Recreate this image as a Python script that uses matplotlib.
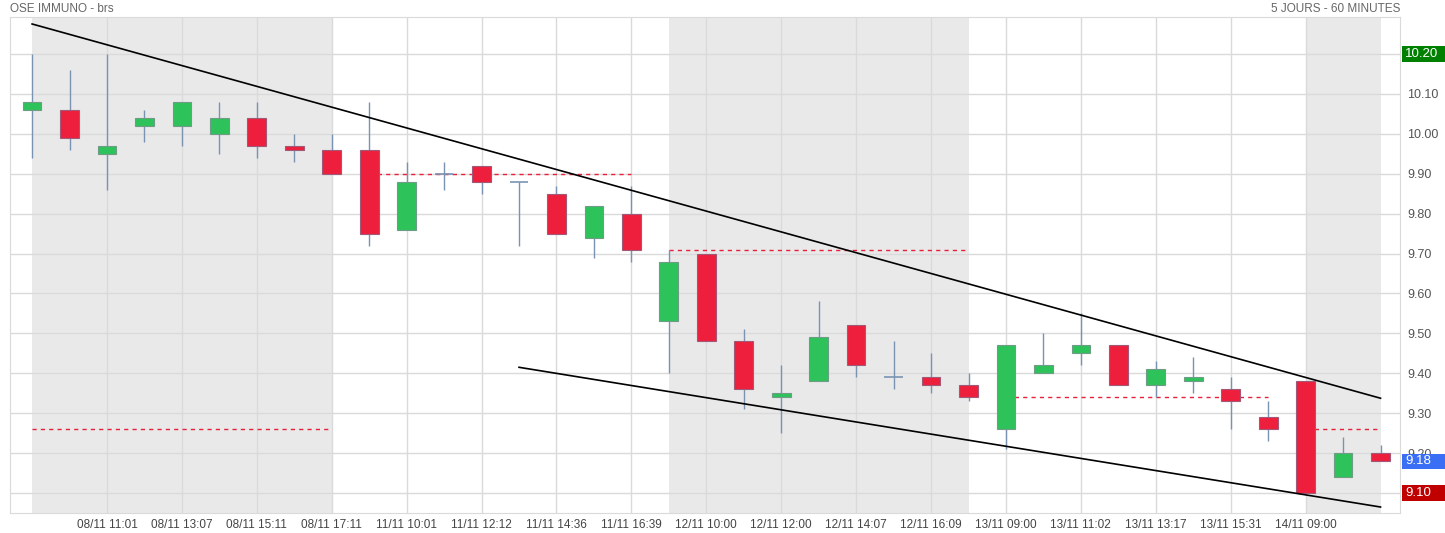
import numpy as np
import matplotlib
matplotlib.use("Agg")
import matplotlib.pyplot as plt
from matplotlib.patches import Rectangle
from matplotlib.transforms import blended_transform_factory

plt.rcParams['font.family'] = ['Liberation Sans Narrow', 'Liberation Sans', 'DejaVu Sans']

# hourly candles, 5 days
opens = [10.06, 10.06, 9.95, 10.02, 10.02, 10.00, 10.04, 9.97, 9.96,
         9.96, 9.76, 9.90, 9.92, 9.88, 9.85, 9.74, 9.80,
         9.53, 9.70, 9.48, 9.34, 9.38, 9.52, 9.39, 9.39, 9.37,
         9.26, 9.40, 9.45, 9.47, 9.37, 9.38, 9.36, 9.29,
         9.38, 9.14, 9.20]
closes = [10.08, 9.99, 9.97, 10.04, 10.08, 10.04, 9.97, 9.96, 9.90,
          9.75, 9.88, 9.90, 9.88, 9.88, 9.75, 9.82, 9.71,
          9.68, 9.48, 9.36, 9.35, 9.49, 9.42, 9.39, 9.37, 9.34,
          9.47, 9.42, 9.47, 9.37, 9.41, 9.39, 9.33, 9.26,
          9.10, 9.20, 9.18]
highs = [10.20, 10.16, 10.20, 10.06, 10.08, 10.08, 10.08, 10.00, 10.00,
         10.08, 9.93, 9.93, 9.92, 9.88, 9.87, 9.82, 9.87,
         9.71, 9.70, 9.51, 9.42, 9.58, 9.52, 9.48, 9.45, 9.40,
         9.47, 9.50, 9.55, 9.47, 9.43, 9.44, 9.39, 9.33,
         9.38, 9.24, 9.22]
lows = [9.94, 9.96, 9.86, 9.98, 9.97, 9.95, 9.94, 9.93, 9.90,
        9.72, 9.76, 9.86, 9.85, 9.72, 9.75, 9.69, 9.68,
        9.40, 9.48, 9.31, 9.25, 9.38, 9.39, 9.36, 9.35, 9.33,
        9.21, 9.40, 9.42, 9.37, 9.34, 9.35, 9.26, 9.23,
        9.10, 9.14, 9.18]

# sessions: first / last candle index, previous close level
day_first = [0, 9, 17, 26, 34]
day_last = [8, 16, 25, 33, 36]
day_shaded = [True, False, True, False, True]
prev_close = [9.26, 9.90, 9.71, 9.34, 9.26]

# trend lines (candle index, price)
upper_x = [0, 36]
upper_y = [10.275, 9.3375]
lower_x = [13, 36]
lower_y = [9.415, 9.065]

tick_idx = list(range(2, 35, 2))
tick_labels = ['08/11 11:01', '08/11 13:07', '08/11 15:11', '08/11 17:11',
               '11/11 10:01', '11/11 12:12', '11/11 14:36', '11/11 16:39',
               '12/11 10:00', '12/11 12:00', '12/11 14:07', '12/11 16:09',
               '13/11 09:00', '13/11 11:02', '13/11 13:17', '13/11 15:31',
               '14/11 09:00']
ytick_vals = [9.20, 9.30, 9.40, 9.50, 9.60, 9.70, 9.80, 9.90, 10.00, 10.10]
grid_vals = [9.10, 9.20, 9.30, 9.40, 9.50, 9.60, 9.70, 9.80, 9.90, 10.00, 10.10, 10.20]

# price tags on the right
tag_vals = [10.20, 9.18, 9.10]
tag_colors = ['#008000', '#3a6ff5', '#c00000']

W, H = 1445, 533
fig = plt.figure(figsize=(W / 100, H / 100), dpi=100)
ax = fig.add_axes([10 / W, 20 / H, 1390 / W, 496 / H])

ax.set_xlim(-0.59, 36.52)
ax.set_ylim(9.05, 10.2925)

# shaded sessions
for f, l, s in zip(day_first, day_last, day_shaded):
    if s:
        ax.axvspan(f, l, color='#e9e9e9', lw=0, zorder=0)

# grid
for g in grid_vals:
    ax.axhline(g, color='#dadada', lw=1, zorder=1)
for t in tick_idx:
    ax.axvline(t, color='#dadada', lw=1, zorder=1)

# previous close dashed lines
for f, l, p in zip(day_first, day_last, prev_close):
    ax.hlines(p, f, l, colors='#e8203a', lw=1, linestyles=(0, (3, 3)), zorder=2)

x = np.arange(len(opens))
o = np.array(opens)
c = np.array(closes)
wick_col = '#7a93b3'
ax.vlines(x, lows, highs, colors=wick_col, lw=1, zorder=3)

up = c > o
down = c < o
doji = c == o
bw = 0.5
ax.bar(x[up], (c - o)[up], bottom=o[up], width=bw, color='#2ec35a',
       edgecolor='#6f9c86', lw=0.8, zorder=4)
ax.bar(x[down], (o - c)[down], bottom=c[down], width=bw, color='#ee1f3d',
       edgecolor='#a05a78', lw=0.8, zorder=4)
ax.hlines(o[doji], x[doji] - bw / 2, x[doji] + bw / 2, colors=wick_col, lw=1.2, zorder=4)

# trend lines
ax.plot(upper_x, upper_y, color='black', lw=1.2, zorder=5)
ax.plot(lower_x, lower_y, color='black', lw=1.2, zorder=5)

# axes styling
for sp in ax.spines.values():
    sp.set_color('#dadada')
ax.set_xticks(tick_idx)
ax.set_xticklabels(tick_labels, fontsize=8.5, color='#444444')
ax.tick_params(axis='x', length=0, pad=4)
ax.yaxis.tick_right()
ax.set_yticks(ytick_vals)
ax.set_yticklabels(['%.2f' % v for v in ytick_vals], fontsize=9, color='#555555')
ax.tick_params(axis='y', length=0, pad=5)

tr = blended_transform_factory(fig.transFigure, ax.transData)
for v, col in zip(tag_vals, tag_colors):
    ax.add_patch(Rectangle((1402 / W, v - 0.019), 43 / W, 0.038, transform=tr,
                           facecolor=col, edgecolor='none', clip_on=False, zorder=6))
    ax.text(1405 / W, v, '%.2f' % v, transform=tr, color='white', fontsize=9.5,
            va='center', ha='left', zorder=7, clip_on=False)

fig.text(10 / W, 1 - 9 / H, 'OSE IMMUNO - brs', fontsize=8.5, color='#666666',
         va='center', ha='left')
fig.text(1400 / W, 1 - 9 / H, '5 JOURS - 60 MINUTES', fontsize=8.5, color='#666666',
         va='center', ha='right')

fig.savefig('out.png', dpi=100)
